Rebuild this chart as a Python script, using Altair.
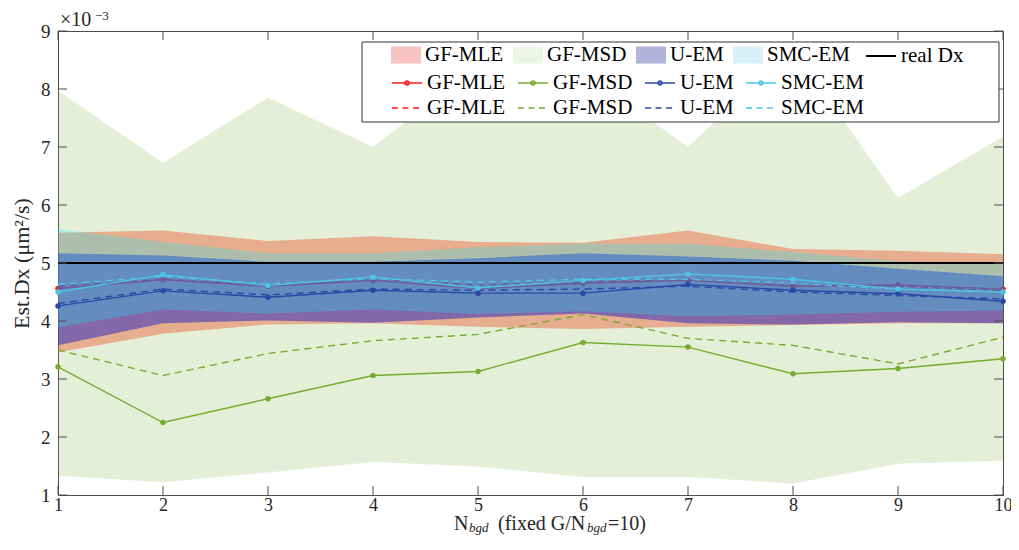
import altair as alt
import pandas as pd

# ---------------- data (values in units of 1e-3 um^2/s) ----------------
x_vals = [1, 2, 3, 4, 5, 6, 7, 8, 9, 10]
methods = ["GF-MLE", "GF-MSD", "U-EM", "SMC-EM"]
real_dx = 5.0

msd_hi = [7.97, 6.73, 7.85, 7.00, 8.40, 8.30, 7.00, 8.70, 6.12, 7.18]
msd_lo = [1.33, 1.22, 1.39, 1.57, 1.49, 1.31, 1.31, 1.20, 1.54, 1.59]
mle_hi = [5.52, 5.56, 5.38, 5.46, 5.36, 5.35, 5.56, 5.24, 5.21, 5.15]
mle_lo = [3.46, 3.78, 3.94, 3.96, 3.90, 3.86, 3.90, 3.93, 3.96, 3.96]
uem_hi = [5.17, 5.13, 5.02, 5.02, 5.08, 5.17, 5.11, 5.04, 4.90, 4.77]
uem_lo = [3.58, 3.96, 4.01, 3.97, 4.06, 4.13, 3.96, 3.94, 3.98, 3.96]
smc_hi = [5.58, 5.36, 5.17, 5.17, 5.27, 5.33, 5.33, 5.19, 5.03, 4.98]
smc_lo = [3.89, 4.20, 4.13, 4.20, 4.12, 4.17, 4.08, 4.11, 4.16, 4.18]

mle_solid = [4.56, 4.71, 4.60, 4.70, 4.56, 4.65, 4.70, 4.60, 4.62, 4.55]
mle_dash = [4.60, 4.72, 4.62, 4.72, 4.62, 4.67, 4.72, 4.63, 4.60, 4.52]
uem_solid = [4.26, 4.52, 4.41, 4.53, 4.48, 4.48, 4.63, 4.53, 4.47, 4.34]
uem_dash = [4.30, 4.55, 4.45, 4.55, 4.53, 4.55, 4.60, 4.50, 4.44, 4.38]
smc_solid = [4.50, 4.80, 4.61, 4.76, 4.57, 4.70, 4.81, 4.72, 4.55, 4.50]
smc_dash = [4.63, 4.77, 4.64, 4.73, 4.67, 4.72, 4.72, 4.65, 4.55, 4.50]
msd_solid = [3.21, 2.25, 2.66, 3.06, 3.13, 3.63, 3.55, 3.09, 3.18, 3.35]
msd_dash = [3.50, 3.06, 3.44, 3.66, 3.77, 4.11, 3.70, 3.58, 3.26, 3.72]

y_ticks = [1, 2, 3, 4, 5, 6, 7, 8, 9]

# ---------------- styling ----------------
W, H = 945, 464
FONT = "Liberation Serif"
AX = "#4d4d4d"

band_col = {"GF-MSD": "#77AC30", "GF-MLE": "#E83C14", "U-EM": "#322DBE", "SMC-EM": "#14F0FA"}
band_op = {"GF-MSD": 0.19, "GF-MLE": 0.37, "U-EM": 0.55, "SMC-EM": 0.27}
swatch = ["#F4A8A4", "#E4F0DC", "#9494CC", "#C6EBF2"]
line_col = {"GF-MLE": "#FF1A1A", "GF-MSD": "#77AC30", "U-EM": "#2B48A6", "SMC-EM": "#4DC3E6"}

xs = alt.Scale(domain=[1, 10], nice=False, zero=False)
ys = alt.Scale(domain=[1, 9], nice=False, zero=False)
x_axis = alt.Axis(values=x_vals, title=None, ticks=False, domain=False, grid=False,
                  labelFont=FONT, labelFontSize=18, labelColor="#262626", labelPadding=1,
                  format="d", labelFlush=False)
y_axis = alt.Axis(values=y_ticks, title="Est.Dx (μm²/s)", ticks=False, domain=False, grid=False,
                  labelFont=FONT, labelFontSize=19, labelColor="#262626", labelPadding=8,
                  format="d", labelFlush=False, titleFont=FONT, titleFontSize=22,
                  titleFontWeight="normal", titleColor="#262626", titlePadding=7)


def X(f):
    return alt.X(f, type="quantitative", scale=xs, axis=x_axis)


def Y(f):
    return alt.Y(f, type="quantitative", scale=ys, axis=y_axis)


def band(lo, hi, m):
    df = pd.DataFrame({"x": x_vals, "lo": lo, "hi": hi})
    return alt.Chart(df).mark_area(color=band_col[m], opacity=band_op[m]).encode(
        x=X("x"), y=Y("lo"), y2="hi")


def sline(vals, m):
    df = pd.DataFrame({"x": x_vals, "v": vals})
    return alt.Chart(df).mark_line(
        color=line_col[m], strokeWidth=1.4,
        point=alt.OverlayMarkDef(filled=True, size=30, color=line_col[m])
    ).encode(x=X("x"), y=Y("v"))


def dline(vals, m):
    df = pd.DataFrame({"x": x_vals, "v": vals})
    return alt.Chart(df).mark_line(color=line_col[m], strokeWidth=1.4, strokeDash=[7, 5]).encode(
        x=X("x"), y=Y("v"))


real = alt.Chart(pd.DataFrame({"x": [1, 10], "v": [real_dx, real_dx]})).mark_line(
    color="black", strokeWidth=2).encode(x=X("x"), y=Y("v"))

# inward ticks on all four sides
TL = 9
xt = pd.DataFrame({"t": x_vals})
yt = pd.DataFrame({"t": y_ticks})
tick_b = alt.Chart(xt).mark_rule(color=AX).encode(x=X("t"), y=alt.value(H), y2=alt.value(H - TL))
tick_t = alt.Chart(xt).mark_rule(color=AX).encode(x=X("t"), y=alt.value(0), y2=alt.value(TL))
tick_l = alt.Chart(yt).mark_rule(color=AX).encode(y=Y("t"), x=alt.value(0), x2=alt.value(TL))
tick_r = alt.Chart(yt).mark_rule(color=AX).encode(y=Y("t"), x=alt.value(W), x2=alt.value(W - TL))

# legend box
box = alt.Chart(pd.DataFrame({"a": [0]})).mark_rect(
    fill="white", stroke="#333333", strokeWidth=1).encode(
    x=alt.value(304), x2=alt.value(941), y=alt.value(11), y2=alt.value(91))

LX = 333
leg_common = dict(orient="none", direction="horizontal", title=None, labelFont=FONT,
                  labelFontSize=21, labelColor="black", labelOffset=4, columnPadding=9,
                  symbolSize=900, padding=0)

leg1_df = pd.DataFrame({"k": methods, "x": [1] * 4, "v": [-50] * 4})
leg1 = alt.Chart(leg1_df).mark_point(filled=True, clip=True, strokeWidth=0).encode(
    x=X("x"), y=Y("v"),
    fill=alt.Fill("k:N", scale=alt.Scale(domain=methods, range=swatch),
                  legend=alt.Legend(columns=4, legendX=LX, legendY=9, symbolStrokeWidth=0,
                                    symbolType="M-1,-0.57H1V0.57H-1Z", **leg_common)))

leg4_df = pd.DataFrame({"k4": ["real Dx", "real Dx"], "x": [1, 2], "v": [-50, -50]})
leg4 = alt.Chart(leg4_df).mark_line(clip=True, color="black").encode(
    x=X("x"), y=Y("v"),
    strokeDash=alt.StrokeDash("k4:N", scale=alt.Scale(domain=["real Dx"], range=[[1, 0]]),
                              legend=alt.Legend(columns=1, legendX=807, legendY=9,
                                                symbolStrokeWidth=2, symbolStrokeColor="black",
                                                symbolType="stroke", **leg_common)))

leg2_df = pd.DataFrame({"k2": methods * 2, "x": [1] * 4 + [2] * 4, "v": [-50] * 8})
leg2 = alt.Chart(leg2_df).mark_line(clip=True).encode(
    x=X("x"), y=Y("v"),
    stroke=alt.Stroke("k2:N", scale=alt.Scale(domain=methods, range=[line_col[m] for m in methods]),
                      legend=alt.Legend(columns=4, legendX=LX, legendY=36, symbolStrokeWidth=1.5,
                                        symbolType="M-1,0H1M-0.13,0A0.13,0.13,0,1,1,0.13,0A0.13,0.13,0,1,1,-0.13,0",
                                        **leg_common)))

leg3_df = pd.DataFrame({"k3": methods * 2, "x": [1] * 4 + [2] * 4, "v": [-50] * 8})
leg3 = alt.Chart(leg3_df).mark_line(clip=True).encode(
    x=X("x"), y=Y("v"),
    color=alt.Color("k3:N", scale=alt.Scale(domain=methods, range=[line_col[m] for m in methods]),
                    legend=alt.Legend(columns=4, legendX=LX, legendY=61, symbolStrokeWidth=1.5,
                                      symbolType="stroke", symbolDash=[6, 4.5],
                                      **leg_common)))


def txt(s, x, y, size, italic=False):
    return alt.Chart(pd.DataFrame({"t": [s]})).mark_text(
        align="left", baseline="alphabetic", font=FONT, fontSize=size,
        fontStyle="italic" if italic else "normal", color="#262626").encode(
        x=alt.value(x), y=alt.value(y), text="t:N")


TB = 499  # x-title baseline (relative to plot top)
texts = [
    txt("×10", 2, -5, 20),
    txt("−3", 37, -11, 13),
    txt("N", 396, TB, 20),
    txt("bgd", 411, TB + 2, 13, italic=True),
    txt("(fixed G/N", 440, TB, 20),
    txt("bgd", 529, TB + 2, 13, italic=True),
    txt("=10)", 550, TB, 20),
]

layers = [
    band(msd_lo, msd_hi, "GF-MSD"),
    band(mle_lo, mle_hi, "GF-MLE"),
    sline(mle_solid, "GF-MLE"),
    dline(mle_dash, "GF-MLE"),
    band(uem_lo, uem_hi, "U-EM"),
    band(smc_lo, smc_hi, "SMC-EM"),
    sline(uem_solid, "U-EM"),
    dline(uem_dash, "U-EM"),
    sline(smc_solid, "SMC-EM"),
    dline(smc_dash, "SMC-EM"),
    sline(msd_solid, "GF-MSD"),
    dline(msd_dash, "GF-MSD"),
    real,
    tick_b, tick_t, tick_l, tick_r,
    box, leg1, leg4, leg2, leg3,
] + texts

chart = alt.layer(*layers).resolve_scale(
    fill="independent", stroke="independent", color="independent", strokeDash="independent"
).properties(
    width=W, height=H,
    autosize=alt.AutoSizeParams(type="none"),
    padding={"left": 50, "top": 23, "right": 8, "bottom": 40},
    background="white",
).configure_view(stroke=AX, strokeWidth=1)

chart.save("out.html", embed_options={"renderer": "svg", "actions": False})
